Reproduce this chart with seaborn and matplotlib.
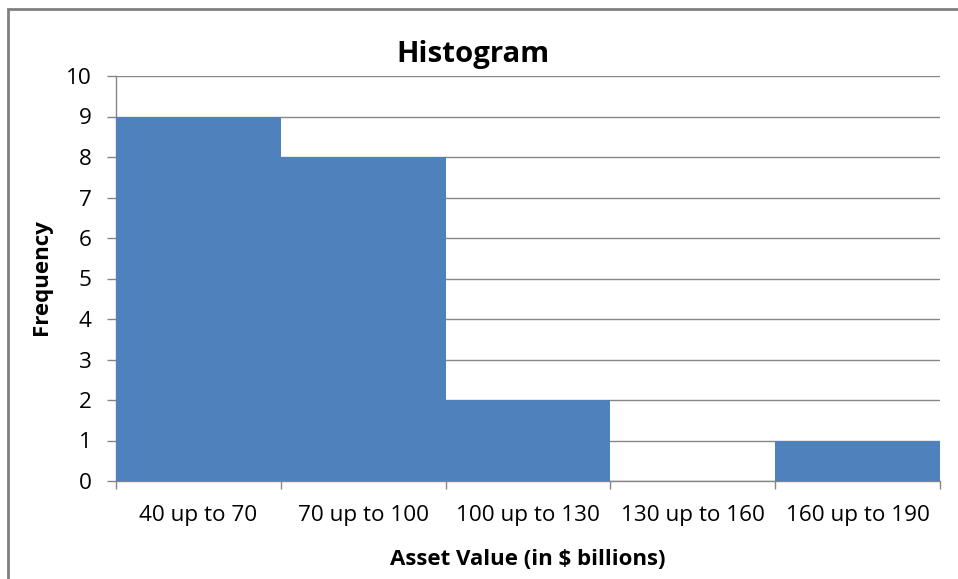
import matplotlib
matplotlib.use("Agg")
import matplotlib.pyplot as plt
import seaborn as sns
import pandas as pd
from matplotlib.patches import Rectangle

categories = ["40 up to 70", "70 up to 100", "100 up to 130", "130 up to 160", "160 up to 190"]
frequency = [9, 8, 2, 0, 1]
yticks = list(range(0, 11))

sns.set_theme(style="white")
plt.rcParams['font.family'] = ['Open Sans', 'DejaVu Sans']
plt.rcParams['text.color'] = '#000000'
plt.rcParams['axes.labelcolor'] = '#000000'

fig = plt.figure(figsize=(9.58, 5.79), dpi=100)
ax = fig.add_axes([116/958, 1-481/579, (940-116)/958, (481-76)/579])

df = pd.DataFrame({"cat": categories, "freq": frequency})
sns.barplot(data=df, x="cat", y="freq", color="#4F81BD", saturation=1, width=1.0, ax=ax, zorder=3, linewidth=0)

ax.set_xlim(-0.5, len(categories) - 0.5)
ax.set_ylim(0, 10)
ax.set_yticks(yticks)
ax.set_yticklabels([str(t) for t in yticks], fontsize=16.2, color="#000000")
ax.yaxis.grid(True, color="#868686", linewidth=1, zorder=0)
ax.set_axisbelow(True)

edges = [i - 0.5 for i in range(len(categories) + 1)]
ax.set_xticks(edges)
ax.set_xticklabels([""] * len(edges))
ax.set_xticks(list(range(len(categories))), minor=True)
ax.set_xticklabels(categories, minor=True, fontsize=16.2, color="#000000")
ax.tick_params(axis="x", which="major", length=6, color="#868686", width=1, direction="out", bottom=True)
ax.tick_params(axis="x", which="minor", length=0, pad=17)
ax.tick_params(axis="y", which="major", length=6.5, color="#868686", width=1, direction="out", left=True, pad=11)

for s in ["top", "right"]:
    ax.spines[s].set_visible(False)
for s in ["left", "bottom"]:
    ax.spines[s].set_color("#868686")
    ax.spines[s].set_linewidth(1)

ax.set_xlabel("Asset Value (in $ billions)", fontsize=16, fontweight="bold", va="baseline", color="#000000")
ax.xaxis.set_label_coords(0.4994, (481 - 565) / 405)
ax.set_ylabel("Frequency", fontsize=16, fontweight="bold", va="center", color="#000000")
ax.yaxis.set_label_coords((41 - 116) / 824, (481 - 277.5) / 405)
fig.text((395 + 551) / 2 / 958, 1 - 62 / 579, "Histogram", ha="center", va="baseline",
         fontsize=21.2, fontweight="bold", color="#000000")

fig.patches.append(Rectangle((8/958, -0.1), 1.2, 1 - 9/579 + 0.1, transform=fig.transFigure,
                             fill=False, edgecolor="#808080", linewidth=2))

fig.savefig("out.png", dpi=100)
